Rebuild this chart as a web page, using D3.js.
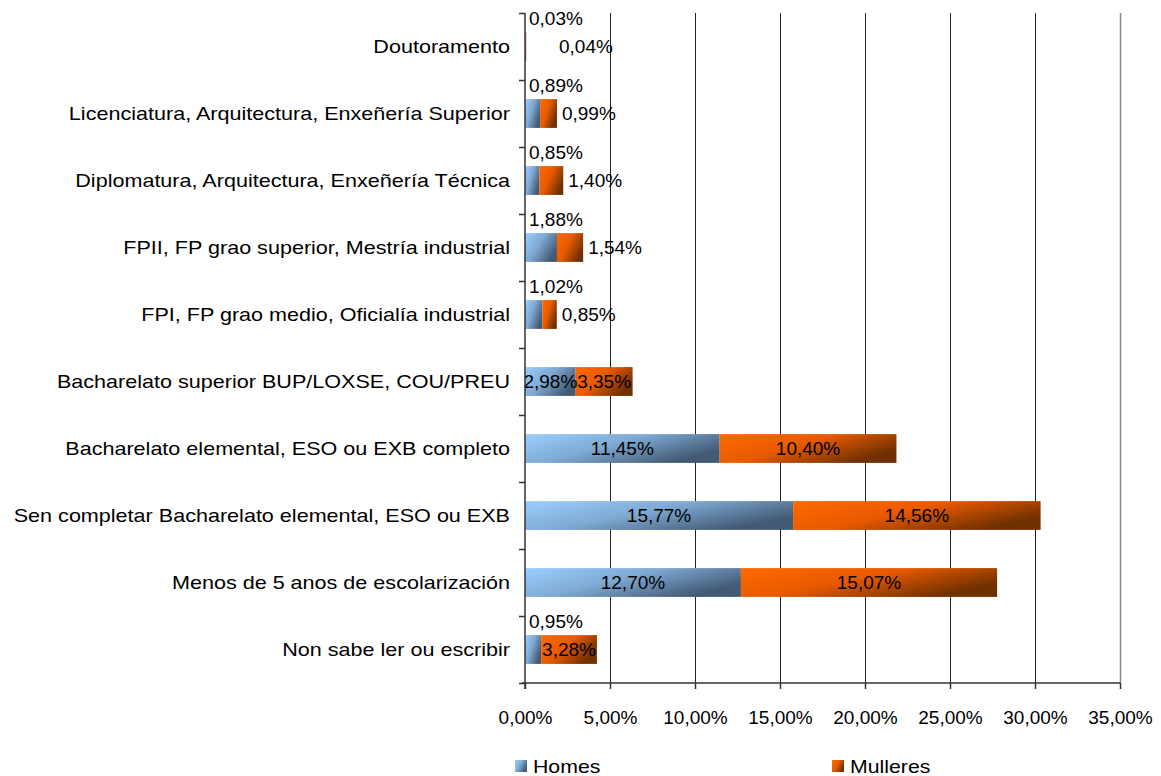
<!DOCTYPE html>
<html>
<head>
<meta charset="utf-8">
<script src="https://cdn.jsdelivr.net/npm/d3@7"></script>
<style>
  body { margin: 0; background: #fff; }
  svg text { font-family: "Liberation Sans", Arial, sans-serif; fill: #000; }
</style>
</head>
<body>
<div id="chart"></div>
<script>
// Categories, top to bottom as drawn
var categories = [
  "Doutoramento",
  "Licenciatura, Arquitectura, Enxeñería Superior",
  "Diplomatura, Arquitectura, Enxeñería Técnica",
  "FPII, FP grao superior, Mestría industrial",
  "FPI, FP grao medio, Oficialía industrial",
  "Bacharelato superior BUP/LOXSE, COU/PREU",
  "Bacharelato elemental, ESO ou EXB completo",
  "Sen completar Bacharelato elemental, ESO ou EXB",
  "Menos de 5 anos de escolarización",
  "Non sabe ler ou escribir"
];
var homes    = [0.03, 0.89, 0.85, 1.88, 1.02, 2.98, 11.45, 15.77, 12.70, 0.95];
var mulleres = [0.04, 0.99, 1.40, 1.54, 0.85, 3.35, 10.40, 14.56, 15.07, 3.28];
var seriesNames = ["Homes", "Mulleres"];
var xTicks = [0, 5, 10, 15, 20, 25, 30, 35];

var W = 1161, H = 776;
var margins = {top: 13, right: 41, bottom: 93, left: 525};
var width = W - margins.left - margins.right;
var height = H - margins.top - margins.bottom;
var fontSize = 19;

var svg = d3.select("#chart").append("svg").attr("width", W).attr("height", H);

// the source renders its category names a bit wider than Arial metrics
function widen(sel, k) {
  sel.each(function() {
    var l = this.getComputedTextLength();
    d3.select(this).attr("textLength", l * k).attr("lengthAdjust", "spacingAndGlyphs");
  });
}

// gradients like the old spreadsheet fill
var defs = svg.append("defs");
function gradient(id, c0, c1, c2) {
  var g = defs.append("linearGradient").attr("id", id)
    .attr("x1", 0).attr("y1", 0).attr("x2", 1).attr("y2", 0.55);
  g.append("stop").attr("offset", "0%").attr("stop-color", c0);
  g.append("stop").attr("offset", "50%").attr("stop-color", c1);
  g.append("stop").attr("offset", "100%").attr("stop-color", c2);
}
gradient("gHomes", "#9ccfff", "#7ea9d2", "#435a75");
gradient("gMulleres", "#ff6a00", "#e85a00", "#703000");

var chart = svg.append("g")
  .attr("transform", "translate(" + margins.left + "," + margins.top + ")");

var xScale = d3.scaleLinear().domain([0, 35]).range([0, width]);
var yScale = d3.scaleBand().domain(categories).range([0, height]).paddingInner(0.57).paddingOuter(0.285);
var yEdge = d3.scaleLinear().domain([0, categories.length]).range([0, height]);
var fmt = function(v) { return d3.format(".2f")(v).replace(".", ",") + "%"; };

// gridlines
chart.append("g").selectAll("line")
  .data(xTicks.filter(function(d) { return d > 0; }))
  .join("line")
  .attr("x1", function(d) { return xScale(d) + 0.5; })
  .attr("x2", function(d) { return xScale(d) + 0.5; })
  .attr("y1", 0).attr("y2", height)
  .attr("stroke", function(d) { return d === 35 ? "#888" : "#222"; })
  .attr("stroke-width", function(d) { return d === 35 ? 1.5 : 1; });

// bars
var rows = categories.map(function(c, i) { return {cat: c, h: homes[i], m: mulleres[i]}; });

var barG = chart.append("g");
barG.selectAll("rect.homes").data(rows).join("rect")
  .attr("class", "homes")
  .attr("x", xScale(0))
  .attr("y", function(d) { return yScale(d.cat); })
  .attr("width", function(d) { return xScale(d.h) - xScale(0); })
  .attr("height", yScale.bandwidth())
  .attr("fill", "url(#gHomes)");
barG.selectAll("rect.mulleres").data(rows).join("rect")
  .attr("class", "mulleres")
  .attr("x", function(d) { return xScale(d.h); })
  .attr("y", function(d) { return yScale(d.cat); })
  .attr("width", function(d) { return xScale(d.h + d.m) - xScale(d.h); })
  .attr("height", yScale.bandwidth())
  .attr("fill", "url(#gMulleres)");

// data labels: centred inside when they fit, otherwise moved out
var labelW = 50;
var labG = chart.append("g").style("font-size", fontSize + "px");
rows.forEach(function(d) {
  var y0 = yScale(d.cat), yc = y0 + yScale.bandwidth() / 2;
  var hw = xScale(d.h) - xScale(0);
  var mw = xScale(d.h + d.m) - xScale(d.h);
  if (hw > labelW) {
    labG.append("text").attr("x", xScale(d.h / 2)).attr("y", yc).attr("dy", "0.35em")
      .attr("text-anchor", "middle").text(fmt(d.h));
  } else {
    labG.append("text").attr("x", xScale(0) + 4).attr("y", y0 - 14).attr("dy", "0.35em")
      .text(fmt(d.h));
  }
  if (mw > labelW) {
    labG.append("text").attr("x", xScale(d.h + d.m / 2)).attr("y", yc).attr("dy", "0.35em")
      .attr("text-anchor", "middle").text(fmt(d.m));
  } else {
    labG.append("text").attr("x", Math.max(xScale(d.h + d.m) + 5, xScale(2)))
      .attr("y", yc).attr("dy", "0.35em").text(fmt(d.m));
  }
});

// x axis
var xAxis = d3.axisBottom(xScale).tickValues(xTicks).tickSize(6).tickPadding(22).tickFormat(fmt);
var xAxisSVG = chart.append("g").attr("class", "x axis")
  .attr("transform", "translate(0," + height + ")").call(xAxis);
xAxisSVG.selectAll("text").style("font-size", fontSize + "px").attr("font-family", null);
xAxisSVG.selectAll("line,path").attr("stroke", "#333").attr("stroke-width", 1.5);
xAxisSVG.select("path").attr("d", "M-3,0H" + width);

// y axis: tick marks on the category edges, names at centres
var yTicks = d3.axisLeft(yEdge).ticks(categories.length).tickSize(6).tickFormat("");
var yTickSVG = chart.append("g").call(yTicks);
yTickSVG.selectAll("line,path").attr("stroke", "#333").attr("stroke-width", 1.5);
yTickSVG.select("path").attr("d", "M0,0V" + (height + 6));

var yAxis = d3.axisLeft(yScale).tickSize(0).tickPadding(15);
var yAxisSVG = chart.append("g").call(yAxis);
yAxisSVG.select("path").remove();
yAxisSVG.selectAll("text").style("font-size", fontSize + "px").attr("font-family", null)
  .call(widen, 1.135);

// legend
var legend = svg.append("g").style("font-size", fontSize + "px");
var legendX = [515, 832];
seriesNames.forEach(function(name, i) {
  legend.append("rect").attr("x", legendX[i]).attr("y", 760).attr("width", 12).attr("height", 12)
    .attr("fill", i === 0 ? "url(#gHomes)" : "url(#gMulleres)");
  legend.append("text").attr("x", legendX[i] + 18).attr("y", 766).attr("dy", "0.35em").text(name)
    .call(widen, 1.12);
});
</script>
</body>
</html>
